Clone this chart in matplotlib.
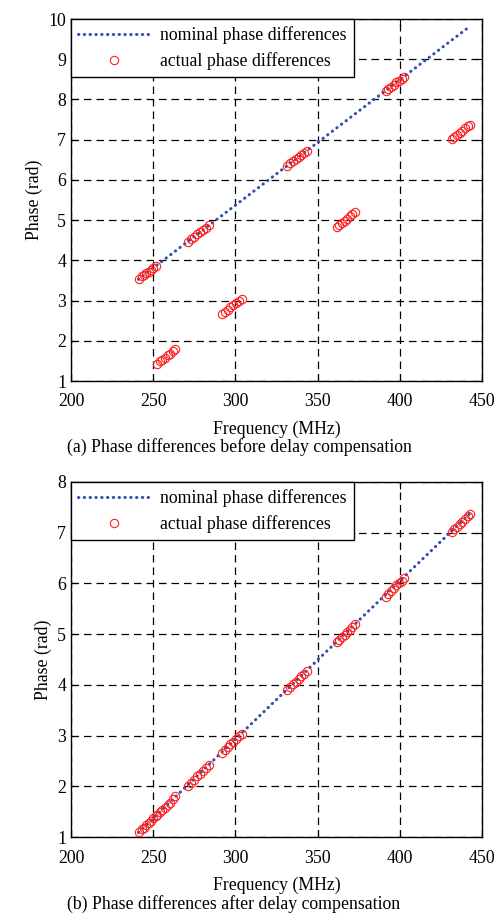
import matplotlib
matplotlib.use("Agg")
import matplotlib.pyplot as plt

plt.rcParams["font.family"] = ["Liberation Serif", "DejaVu Serif"]
plt.rcParams["font.size"] = 12.8

# measured frequencies (MHz), eight sub-bands
freq = [
    241.6, 243.0, 244.4, 245.8, 247.3, 248.7, 250.1, 251.5,
    252.4, 253.9, 255.5, 257.1, 258.7, 260.3, 261.9, 263.4,
    271.0, 272.9, 274.8, 276.7, 278.5, 280.4, 282.3, 284.0,
    291.8, 293.5, 295.3, 297.0, 298.8, 300.5, 302.3, 304.0,
    331.6, 333.3, 335.0, 336.7, 338.4, 340.0, 341.7, 343.4,
    361.6, 363.2, 364.8, 366.4, 368.0, 369.6, 371.2, 372.8,
    391.4, 393.1, 394.7, 396.3, 397.9, 399.5, 401.2, 402.8,
    431.6, 433.2, 434.8, 436.4, 438.0, 439.6, 441.2, 442.8,
]

# (a) before delay compensation
phase_before = [
    3.54, 3.60, 3.63, 3.68, 3.72, 3.77, 3.82, 3.86,
    1.43, 1.49, 1.53, 1.58, 1.64, 1.68, 1.74, 1.80,
    4.46, 4.52, 4.58, 4.65, 4.70, 4.76, 4.81, 4.87,
    2.66, 2.71, 2.77, 2.83, 2.88, 2.93, 2.99, 3.04,
    6.34, 6.41, 6.46, 6.51, 6.57, 6.62, 6.67, 6.72,
    4.84, 4.89, 4.94, 4.99, 5.04, 5.09, 5.14, 5.20,
    8.20, 8.27, 8.32, 8.37, 8.43, 8.47, 8.52, 8.57,
    7.01, 7.07, 7.12, 7.17, 7.22, 7.28, 7.33, 7.37,
]

# (b) after delay compensation
phase_after = [
    1.09, 1.15, 1.18, 1.23, 1.27, 1.32, 1.37, 1.41,
    1.43, 1.49, 1.53, 1.58, 1.64, 1.68, 1.74, 1.80,
    2.01, 2.07, 2.13, 2.20, 2.25, 2.31, 2.36, 2.42,
    2.66, 2.71, 2.77, 2.83, 2.88, 2.93, 2.99, 3.04,
    3.89, 3.96, 4.01, 4.06, 4.12, 4.17, 4.22, 4.27,
    4.84, 4.89, 4.94, 4.99, 5.04, 5.09, 5.14, 5.20,
    5.73, 5.80, 5.85, 5.90, 5.96, 6.00, 6.05, 6.10,
    7.01, 7.07, 7.12, 7.17, 7.22, 7.28, 7.33, 7.37,
]

nominal_freq = [241.0, 443.0]
nominal_before = [3.53, 9.83]
nominal_after = [1.09, 7.39]

xticks = [200, 250, 300, 350, 400, 450]

fig = plt.figure(figsize=(5.0, 9.21), dpi=100)

W, H = 500.0, 921.0
ax1 = fig.add_axes([71 / W, 1 - 381 / H, 411 / W, 362 / H])
ax2 = fig.add_axes([71 / W, 1 - 837 / H, 411 / W, 355 / H])


def draw(ax, nom, act, ymax, caption, cap_y):
    ax.plot(nominal_freq, nom, linestyle=(0, (0.1, 1.8)), lw=2.2,
            dash_capstyle="round", color="#3050b0",
            label="nominal phase differences", zorder=3)
    ax.plot(freq, act, "o", mfc="none", mec="#ff2020", ms=6, mew=0.8,
            label="actual phase differences", zorder=4)
    ax.set_xlim(200, 450)
    ax.set_ylim(1, ymax)
    ax.set_xticks(xticks)
    ax.set_yticks(range(1, ymax + 1))
    ax.grid(True, color="black", linestyle=(0, (6, 4)), linewidth=0.9)
    ax.set_axisbelow(True)
    ax.tick_params(direction="in", top=True, right=True, length=5, width=0.8)
    ax.tick_params(axis="x", pad=9)
    for s in ax.spines.values():
        s.set_linewidth(1.0)
    ax.set_xlabel("Frequency (MHz)", labelpad=7)
    ax.set_ylabel("Phase (rad)")
    leg = ax.legend(loc="upper left", borderaxespad=0, fancybox=False,
                    framealpha=1, edgecolor="black", numpoints=1,
                    handlelength=4.0, handletextpad=0.6, borderpad=0.4,
                    labelspacing=0.45)
    leg.get_frame().set_linewidth(1.0)
    fig.text(67 / W, 1 - cap_y / H, caption, ha="left", va="center")


draw(ax1, nominal_before, phase_before, 10,
     "(a) Phase differences before delay compensation", 447)
draw(ax2, nominal_after, phase_after, 8,
     "(b) Phase differences after delay compensation", 904)

fig.savefig("out.png", dpi=100)
